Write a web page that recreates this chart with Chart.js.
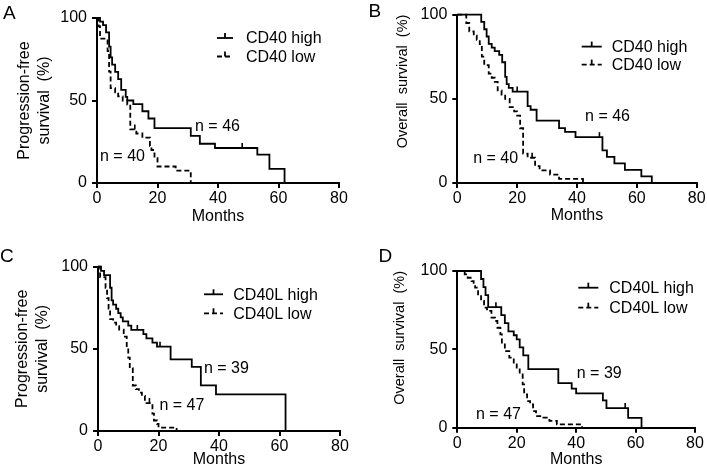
<!DOCTYPE html>
<html>
<head>
<meta charset="utf-8">
<script src="https://cdn.jsdelivr.net/npm/chart.js@4.4.0/dist/chart.umd.min.js"></script>
<style>
  html, body { margin: 0; padding: 0; background: #fff; }
  body { width: 707px; height: 470px; position: relative; overflow: hidden;
         font-family: Arial, 'Liberation Sans', Helvetica, sans-serif; }
  canvas { position: absolute; }
  .letter { position: absolute; font-size: 19px; line-height: 1; color: #000; }
</style>
</head>
<body>
<canvas id="chartA" width="353" height="235" style="left:0;top:0"></canvas>
<canvas id="chartB" width="354" height="235" style="left:353px;top:0"></canvas>
<canvas id="chartC" width="353" height="235" style="left:0;top:235px"></canvas>
<canvas id="chartD" width="354" height="235" style="left:353px;top:235px"></canvas>
<div class="letter" style="left:3px;top:2.5px">A</div>
<div class="letter" style="left:368.5px;top:1px">B</div>
<div class="letter" style="left:0;top:246px">C</div>
<div class="letter" style="left:378.5px;top:245.5px">D</div>
<script>
const FONT = "Arial, 'Liberation Sans', Helvetica, sans-serif";

const monthTicks = [0, 20, 40, 60, 80];
const survivalTicks = [0, 50, 100];

// A - progression-free survival by CD40
const aHighMonths = [0, 1, 2, 3, 4, 4.5, 5, 6, 7, 8, 9.5, 10, 12, 15, 17, 19, 31, 34, 39, 53, 57, 62];
const aHighSurv   = [100, 97.8, 95.7, 91.3, 82.6, 76.1, 71.7, 67.4, 63, 56.5, 52.2, 50, 47.8, 43.5, 39.1, 33.3, 28.6, 23.8, 21.2, 17.2, 8.6, 0];
const aHighCensorMonths = [48];
const aHighCensorSurv   = [21.2];
const aLowMonths = [0, 0.5, 1, 3.5, 4, 4.5, 6, 7, 8.5, 10, 11, 13, 15, 17.5, 18, 19, 20, 26, 31];
const aLowSurv   = [100, 95, 87.5, 80, 67.5, 57.5, 55, 52.5, 50, 47.5, 32.5, 30, 27.5, 22.5, 20, 15, 10, 7.5, 0];
const aLowCensorMonths = [12.5];
const aLowCensorSurv   = [32.5];

// B - overall survival by CD40
const bHighMonths = [0, 8, 9, 9.8, 10.5, 11.5, 12.5, 14, 15, 16, 16.5, 17.2, 18.5, 23.5, 24.5, 26.5, 34, 36, 39.5, 48.5, 50, 52.5, 56, 61.5, 65];
const bHighSurv   = [100, 95.7, 91.3, 87, 82.6, 80.4, 78.3, 76.1, 71.7, 63, 58.7, 56.5, 54.3, 45.7, 43.5, 37, 32.6, 30.4, 27.2, 19.4, 15.5, 11.6, 7.8, 3.9, 0];
const bHighCensorMonths = [20, 47.5];
const bHighCensorSurv   = [54.3, 27.2];
const bLowMonths = [0, 3, 4, 5.5, 6.5, 7.5, 8.2, 9, 10.5, 11.5, 12.5, 13.5, 14.8, 16, 17.5, 19, 20, 21, 22, 23.5, 26, 27.5, 31, 34, 42];
const bLowSurv   = [100, 95, 90, 87.5, 85, 82.5, 75, 70, 65, 62.5, 60, 55, 52.5, 50, 45, 42.5, 40, 32.5, 17.5, 15, 10, 7.5, 5, 2.5, 0];
const bLowCensorMonths = [25];
const bLowCensorSurv   = [15];

// C - progression-free survival by CD40L
const cHighMonths = [0, 1, 2, 4, 4.5, 5, 6, 6.7, 7.5, 8.2, 10, 11, 15, 16, 18, 19.5, 24, 31, 34, 39, 62];
const cHighSurv   = [100, 97.4, 94.9, 87.2, 79.5, 76.9, 74.4, 71.8, 69.2, 66.7, 64.1, 61.5, 59, 56.4, 53.8, 51.3, 43.6, 39, 27.8, 22.3, 0];
const cHighCensorMonths = [13, 20.5];
const cHighCensorSurv   = [61.5, 51.3];
const cLowMonths = [0, 0.7, 2.5, 3, 3.5, 4, 5, 6, 7, 8.5, 9.5, 10, 10.5, 11.5, 12.5, 13.5, 14.5, 15.5, 18, 18.5, 19.5, 20, 26];
const cLowSurv   = [100, 93.6, 87.2, 80.9, 74.5, 68.1, 66, 63.8, 61.7, 57.4, 51.1, 44.7, 38.3, 27.7, 25.5, 23.4, 21.3, 17, 10.6, 6.4, 4.3, 2.1, 0];
const cLowCensorMonths = [17];
const cLowCensorSurv   = [17];

// D - overall survival by CD40L
const dHighMonths = [0, 8, 8.8, 9.5, 10.4, 14.8, 16, 17.2, 19, 20, 21, 22.2, 23.9, 34, 38.5, 40, 49, 50.2, 57.5, 62];
const dHighSurv   = [100, 94.9, 89.7, 84.6, 76.9, 71.8, 66.7, 61.5, 59, 56.4, 51.3, 46.2, 37.4, 28.5, 25, 21.9, 17.5, 12.5, 6.3, 0];
const dHighCensorMonths = [13, 56.5];
const dHighCensorSurv   = [76.9, 12.5];
const dLowMonths = [0, 2.5, 3.5, 4.8, 5.5, 6, 7, 8, 9, 10, 11.5, 12.7, 13.5, 14.5, 15, 16, 17.5, 19, 20, 21, 22, 22.5, 23.5, 24.5, 25.5, 26.5, 29, 31, 33.5, 42];
const dLowSurv   = [100, 97.9, 95.7, 93.6, 91.5, 89.4, 85.1, 80.9, 76.6, 74.5, 70.2, 68.1, 63.8, 59.6, 53.2, 48.9, 44.7, 40.4, 38.3, 34, 27.7, 21.3, 17, 14.9, 10.6, 7.4, 6.4, 4.3, 2.1, 0];
const dLowCensorMonths = [];
const dLowCensorSurv   = [];

const cd40Labels = ['CD40 high', 'CD40 low'];
const cd40lLabels = ['CD40L high', 'CD40L low'];
const cd40Counts = [46, 40];
const cd40lCounts = [39, 47];

// legend drawn inside the plot, like the figure
const kmLegend = {
  id: 'kmLegend',
  afterDatasetsDraw(chart, args, opts) {
    const { ctx, chartArea } = chart;
    const curves = chart.data.datasets.filter(d => d.isCurve);
    ctx.save();
    ctx.font = '16px ' + FONT;
    ctx.fillStyle = '#000';
    ctx.strokeStyle = '#000';
    ctx.lineWidth = 1.8;
    ctx.textBaseline = 'middle';
    curves.forEach((d, i) => {
      const x = chartArea.left + opts.dx;
      const y = chartArea.top + opts.dy + i * opts.gap;
      ctx.setLineDash(d.borderDash || []);
      ctx.beginPath(); ctx.moveTo(x, y); ctx.lineTo(x + opts.len, y); ctx.stroke();
      ctx.setLineDash([]);
      ctx.beginPath(); ctx.moveTo(x + opts.len / 2, y); ctx.lineTo(x + opts.len / 2, y - 5); ctx.stroke();
      ctx.fillText(d.label, x + opts.textX, y + 1);
    });
    ctx.restore();
  }
};

// "n = .." notes, placed in data units
const nLabels = {
  id: 'nLabels',
  afterDatasetsDraw(chart, args, opts) {
    const { ctx, scales } = chart;
    ctx.save();
    ctx.font = '16px ' + FONT;
    ctx.fillStyle = '#000';
    ctx.textBaseline = 'middle';
    opts.items.forEach(it => {
      ctx.fillText(it.text, scales.x.getPixelForValue(it.x), scales.y.getPixelForValue(it.y));
    });
    ctx.restore();
  }
};

function curve(label, months, surv, dash) {
  return {
    label, isCurve: true,
    data: months.map((m, i) => ({ x: m, y: surv[i] })),
    stepped: 'before',
    borderColor: '#000', borderWidth: 1.8, borderDash: dash,
    pointRadius: 0, fill: false, clip: 4
  };
}

function censor(months, surv) {
  return {
    data: months.map((m, i) => ({ x: m, y: surv[i] })),
    showLine: false,
    pointStyle: 'dash', pointRotation: -90, pointRadius: 5,
    pointBorderColor: '#000', pointBorderWidth: 1.6, clip: false
  };
}

function makePanel(id, p) {
  new Chart(document.getElementById(id), {
    type: 'line',
    data: {
      datasets: [
        curve(p.labels[0], p.highMonths, p.highSurv, []),
        curve(p.labels[1], p.lowMonths, p.lowSurv, [5, 3]),
        censor(p.highCensorMonths, p.highCensorSurv),
        censor(p.lowCensorMonths, p.lowCensorSurv)
      ]
    },
    options: {
      responsive: false,
      animation: false,
      events: [],
      layout: { padding: p.padding },
      scales: {
        x: {
          type: 'linear', min: 0, max: 80,
          afterBuildTicks: s => { s.ticks = monthTicks.map(v => ({ value: v })); },
          afterFit: s => { s.height = p.xHeight; },
          border: { color: '#000', width: 2 },
          grid: { drawOnChartArea: false, color: '#000', lineWidth: 2, tickLength: 5 },
          ticks: { color: '#000', padding: 1, font: { family: FONT, size: 16 } },
          title: { display: true, text: 'Months', color: '#000',
                   font: { family: FONT, size: 16, lineHeight: 1.25 },
                   padding: { top: 0, bottom: p.xTitlePad } }
        },
        y: {
          type: 'linear', min: 0, max: 100,
          afterBuildTicks: s => { s.ticks = survivalTicks.map(v => ({ value: v })); },
          afterFit: s => { s.width = p.yWidth; },
          border: { color: '#000', width: 2 },
          grid: { drawOnChartArea: false, color: '#000', lineWidth: 2, tickLength: 5 },
          ticks: { color: '#000', padding: 5, font: { family: FONT, size: 16 } },
          title: { display: true, text: p.yTitle, color: '#000', align: p.yAlign,
                   font: { family: FONT, size: p.yTitleSize, lineHeight: 1.25 },
                   padding: { top: p.yTitlePad, bottom: 0 } }
        }
      },
      plugins: {
        legend: { display: false },
        tooltip: { enabled: false },
        kmLegend: p.legend,
        nLabels: { items: p.notes }
      }
    },
    plugins: [kmLegend, nLabels]
  });
}

makePanel('chartA', {
  labels: cd40Labels,
  highMonths: aHighMonths, highSurv: aHighSurv, lowMonths: aLowMonths, lowSurv: aLowSurv,
  highCensorMonths: aHighCensorMonths, highCensorSurv: aHighCensorSurv,
  lowCensorMonths: aLowCensorMonths, lowCensorSurv: aLowCensorSurv,
  padding: { left: 0, top: 18, right: 14, bottom: 0 },
  xHeight: 52, yWidth: 97, xTitlePad: 8,
  yTitle: ['Progression-free', 'survival  (%)'], yAlign: 'center', yTitleSize: 16, yTitlePad: 15,
  legend: { dx: 120, dy: 20, gap: 18.5, len: 16, textX: 29 },
  notes: [{ text: 'n = ' + cd40Counts[0], x: 32.4, y: 34 }, { text: 'n = ' + cd40Counts[1], x: 1, y: 16 }]
});

makePanel('chartB', {
  labels: cd40Labels,
  highMonths: bHighMonths, highSurv: bHighSurv, lowMonths: bLowMonths, lowSurv: bLowSurv,
  highCensorMonths: bHighCensorMonths, highCensorSurv: bHighCensorSurv,
  lowCensorMonths: bLowCensorMonths, lowCensorSurv: bLowCensorSurv,
  padding: { left: 0, top: 13.3, right: 10.3, bottom: 0 },
  xHeight: 52, yWidth: 104.3, xTitlePad: 9,
  yTitle: 'Overall  survival  (%)', yAlign: 'end', yTitleSize: 14.5, yTitlePad: 41,
  legend: { dx: 124.4, dy: 32, gap: 18, len: 20, textX: 30 },
  notes: [{ text: 'n = ' + cd40Counts[0], x: 42.7, y: 39.5 }, { text: 'n = ' + cd40Counts[1], x: 5.3, y: 14.6 }]
});

makePanel('chartC', {
  labels: cd40lLabels,
  highMonths: cHighMonths, highSurv: cHighSurv, lowMonths: cLowMonths, lowSurv: cLowSurv,
  highCensorMonths: cHighCensorMonths, highCensorSurv: cHighCensorSurv,
  lowCensorMonths: cLowCensorMonths, lowCensorSurv: cLowCensorSurv,
  padding: { left: 0, top: 31.7, right: 13, bottom: 0 },
  xHeight: 39, yWidth: 98, xTitlePad: 0,
  yTitle: ['Progression-free', 'survival  (%)'], yAlign: 'center', yTitleSize: 16, yTitlePad: 13,
  legend: { dx: 106, dy: 27.6, gap: 19, len: 19, textX: 29.3 },
  notes: [{ text: 'n = ' + cd40lCounts[0], x: 35, y: 38.2 }, { text: 'n = ' + cd40lCounts[1], x: 20.3, y: 15.4 }]
});

makePanel('chartD', {
  labels: cd40lLabels,
  highMonths: dHighMonths, highSurv: dHighSurv, lowMonths: dLowMonths, lowSurv: dLowSurv,
  highCensorMonths: dHighCensorMonths, highCensorSurv: dHighCensorSurv,
  lowCensorMonths: dLowCensorMonths, lowCensorSurv: dLowCensorSurv,
  padding: { left: 0, top: 36, right: 12, bottom: 0 },
  xHeight: 42.3, yWidth: 104.3, xTitlePad: 0,
  yTitle: 'Overall  survival  (%)', yAlign: 'end', yTitleSize: 14.5, yTitlePad: 38,
  legend: { dx: 121, dy: 16.7, gap: 20, len: 20, textX: 31 },
  notes: [{ text: 'n = ' + cd40lCounts[0], x: 40.2, y: 34.7 }, { text: 'n = ' + cd40lCounts[1], x: 6.3, y: 8.1 }]
});
</script>
</body>
</html>
